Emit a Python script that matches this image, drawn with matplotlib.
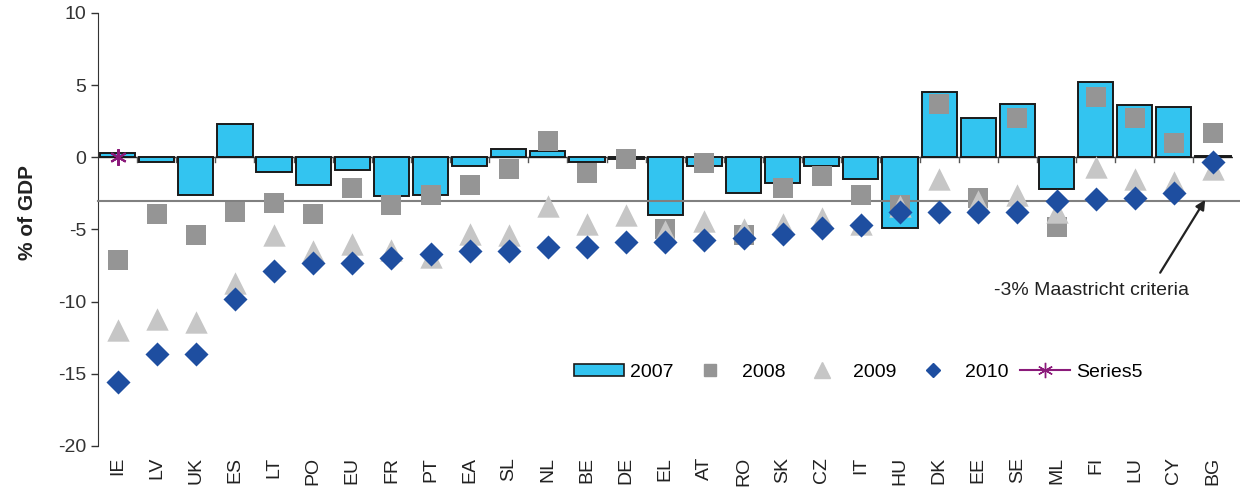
import numpy as np
import matplotlib.pyplot as plt
from matplotlib.patches import Patch
from matplotlib.lines import Line2D

plt.rcParams['font.family'] = ['Liberation Sans', 'DejaVu Sans']
plt.rcParams['axes.unicode_minus'] = False

countries = ["IE", "LV", "UK", "ES", "LT", "PO", "EU", "FR", "PT", "EA", "SL", "NL", "BE", "DE", "EL",
             "AT", "RO", "SK", "CZ", "IT", "HU", "DK", "EE", "SE", "ML", "FI", "LU", "CY", "BG"]

bal_2007 = [0.3, -0.3, -2.6, 2.3, -1.0, -1.9, -0.9, -2.7, -2.6, -0.6, 0.6, 0.4, -0.3, -0.1, -4.0,
            -0.6, -2.5, -1.8, -0.6, -1.5, -4.9, 4.5, 2.7, 3.7, -2.2, 5.2, 3.6, 3.5, 0.1]
bal_2008 = [-7.1, -3.9, -5.4, -3.8, -3.2, -3.9, -2.1, -3.3, -2.6, -1.9, -0.8, 1.1, -1.1, -0.1, -5.0,
            -0.4, -5.4, -2.1, -1.3, -2.6, -3.3, 3.7, -2.8, 2.7, -4.8, 4.2, 2.7, 1.0, 1.7]
bal_2009 = [-12.0, -11.2, -11.4, -8.7, -5.4, -6.5, -6.0, -6.4, -6.9, -5.3, -5.4, -3.4, -4.6, -4.0, -5.1,
            -4.4, -5.0, -4.6, -4.2, -4.6, -3.4, -1.5, -3.0, -2.6, -3.8, -0.7, -1.5, -1.7, -0.8]
bal_2010 = [-15.6, -13.6, -13.6, -9.8, -7.9, -7.3, -7.3, -7.0, -6.7, -6.5, -6.5, -6.2, -6.2, -5.9, -5.9,
            -5.7, -5.6, -5.3, -4.9, -4.7, -3.8, -3.8, -3.8, -3.8, -3.0, -2.9, -2.8, -2.5, -0.3]
series5 = [0.0]
maastricht = -3

x = np.arange(len(countries))

fig = plt.figure(figsize=(12.4, 4.96), dpi=100)
ax = fig.add_axes([0.079, 0.101, 0.915, 0.873])

ax.bar(x, bal_2007, width=0.9, color='#33c4f0', edgecolor='#1a1a1a', linewidth=1.4, zorder=2)
ax.axhline(maastricht, color='#808080', linewidth=1.5, zorder=3, clip_on=False, xmax=1.01)
ax.scatter(x, bal_2008, marker='s', s=200, color='#959595', zorder=4, linewidths=0)
ax.scatter(x, bal_2009, marker='^', s=260, color='#c6c6c6', zorder=5, linewidths=0)
ax.scatter(x, bal_2010, marker='D', s=150, color='#1e4ea0', zorder=6, linewidths=0)
ax.plot(x[:1], series5, marker=(6, 2, 0), color='#8b1a7a', markersize=12, mew=1.5, zorder=7)

ax.set_xlim(-0.5, len(countries) - 0.5)
ax.set_ylim(-20, 10)
ax.set_yticks([-20, -15, -10, -5, 0, 5, 10])
ax.tick_params(axis='y', labelsize=14, colors='#333333', length=5, width=1)
ax.set_ylabel('% of GDP', fontsize=15, fontweight='bold', color='#222222')
ax.yaxis.set_label_coords(-0.054, 0.54)

# category labels sit below the plot; the zero line carries the separator ticks
ax.set_xticks(x)
ax.set_xticklabels(countries, rotation=90, fontsize=14, color='#222222')
ax.tick_params(axis='x', length=0, pad=8)
ax.spines['bottom'].set_visible(False)
ax.spines['top'].set_visible(False)
ax.spines['right'].set_visible(False)
ax.spines['left'].set_color('#333333')
ax.axhline(0, color='#333333', linewidth=1, zorder=1)
for b in x[:-1] + 0.5:
    ax.plot([b, b], [0, -0.35], color='#555555', linewidth=1, zorder=1)

ax.text(24.9, -9.2, '-3% Maastricht criteria', fontsize=14, color='#222222', ha='center', va='center')
ax.annotate('', xy=(27.8, -2.95), xytext=(26.65, -8.0),
            arrowprops=dict(arrowstyle='-|>', color='#222222', lw=1.6, shrinkA=0, shrinkB=0,
                            mutation_scale=14))

handles = [
    Patch(facecolor='#33c4f0', edgecolor='#1a1a1a', linewidth=1.2),
    Line2D([], [], marker='s', linestyle='none', color='#959595', markersize=8),
    Line2D([], [], marker='^', linestyle='none', color='#c6c6c6', markersize=11),
    Line2D([], [], marker='D', linestyle='none', color='#1e4ea0', markersize=7),
    Line2D([], [], marker=(6, 2, 0), color='#8b1a7a', markersize=11, linewidth=1.5),
]
labels = ['2007', '2008', '2009', '2010', 'Series5']
ax.legend(handles, labels, loc='center', bbox_to_anchor=(0.67, 0.17), ncol=5, frameon=False,
          fontsize=14, handlelength=2.6, handleheight=0.6, handletextpad=0.3, columnspacing=0.6)

fig.savefig('out.png', dpi=100)
